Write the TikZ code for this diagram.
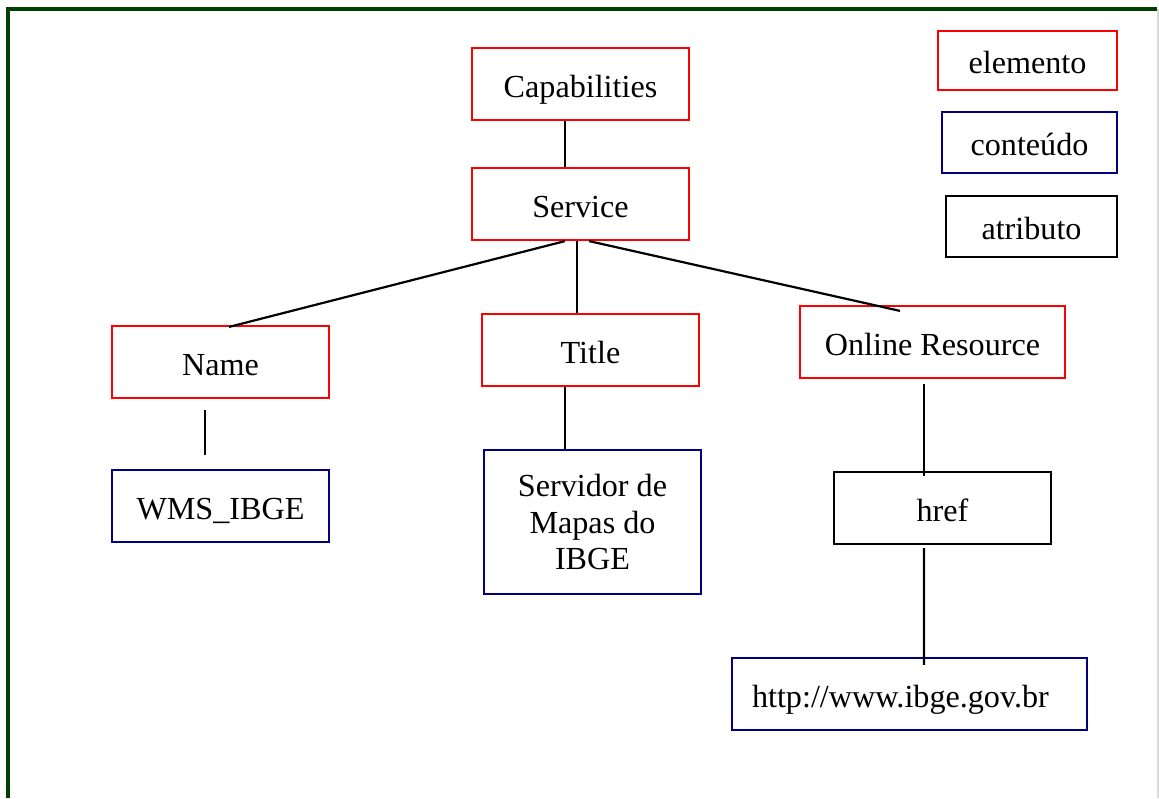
\documentclass[tikz,border=0pt]{standalone}
\usepackage{fontspec}
\setmainfont{Liberation Serif}
\definecolor{framegreen}{RGB}{0,64,0}
\definecolor{navyblue}{RGB}{0,0,128}
\tikzset{
  box/.style={rectangle, draw, line width=1.25pt, inner sep=0pt, align=center,
    text height=0.6cm, text depth=0.08cm,
    font=\fontsize{18.3}{20.5}\selectfont},
  elem/.style={box, draw=red},
  cont/.style={box, draw=navyblue},
  attr/.style={box, draw=black},
  link/.style={line width=1.25pt, black}
}
\begin{document}
\begin{tikzpicture}[x=0.02cm, y=-0.02cm]
  \useasboundingbox (0,0) rectangle (1159,798);
  % frame
  \draw[framegreen, line width=2pt] (8,798) -- (8,9) -- (1157,9);
  \draw[black!15, line width=0.6pt] (1158,9) -- (1158,798);
  % tree
  \node (cap) at (580.5,84) [elem, minimum width=4.34cm, minimum height=1.44cm] {Capabilities};
  \node (serv) at (580.5,204) [elem, minimum width=4.34cm, minimum height=1.44cm] {Service};
  \node (name) at (220.5,362) [elem, minimum width=4.34cm, minimum height=1.44cm] {Name};
  \node (title) at (590.5,350) [elem, minimum width=4.34cm, minimum height=1.44cm] {Title};
  \node (online) at (932.5,342) [elem, minimum width=5.3cm, minimum height=1.44cm] {Online Resource};
  \node (wms) at (220.5,506) [cont, minimum width=4.34cm, minimum height=1.44cm] {WMS\_IBGE};
  \node (servidor) at (592.5,522) [cont, text height=, text depth=, minimum width=4.34cm, minimum height=2.88cm] {Servidor de\\Mapas do\\IBGE};
  \node (href) at (942.5,508) [attr, minimum width=4.34cm, minimum height=1.44cm] {href};
  \node (http) at (909.5,694) [cont, minimum height=1.44cm, inner xsep=0.4cm, text width=6.3cm, align=left] {http://www.ibge.gov.br};
  % legend
  \node (lelem) at (1027.5,60.5) [elem, minimum width=3.58cm, minimum height=1.18cm] {elemento};
  \node (lcont) at (1029.5,142.5) [cont, minimum width=3.5cm, minimum height=1.22cm] {conteúdo};
  \node (lattr) at (1031.5,226.5) [attr, minimum width=3.42cm, minimum height=1.22cm] {atributo};
  % connectors
  \draw[link] ([shift={(-15.5,0)}]cap.south) -- ([shift={(-15.5,0)}]serv.north);
  \draw[link] ([shift={(-15.5,0)}]serv.south) -- ([shift={(8.5,2)}]name.north);
  \draw[link] ([shift={(-3.5,0)}]serv.south) -- ([shift={(-13.5,0)}]title.north);
  \draw[link] ([shift={(8.5,0)}]serv.south) -- ([shift={(-32.5,6)}]online.north);
  \draw[link] ([shift={(-15.5,11)}]name.south) -- ([shift={(-15.5,-14)}]wms.north);
  \draw[link] ([shift={(-25.5,0)}]title.south) -- ([shift={(-27.5,0)}]servidor.north);
  \draw[link] ([shift={(-8.5,5)}]online.south) -- ([shift={(-18.5,5)}]href.north);
  \draw[link] ([shift={(-18.5,3)}]href.south) -- ([shift={(14.5,8)}]http.north);
\end{tikzpicture}
\end{document}
